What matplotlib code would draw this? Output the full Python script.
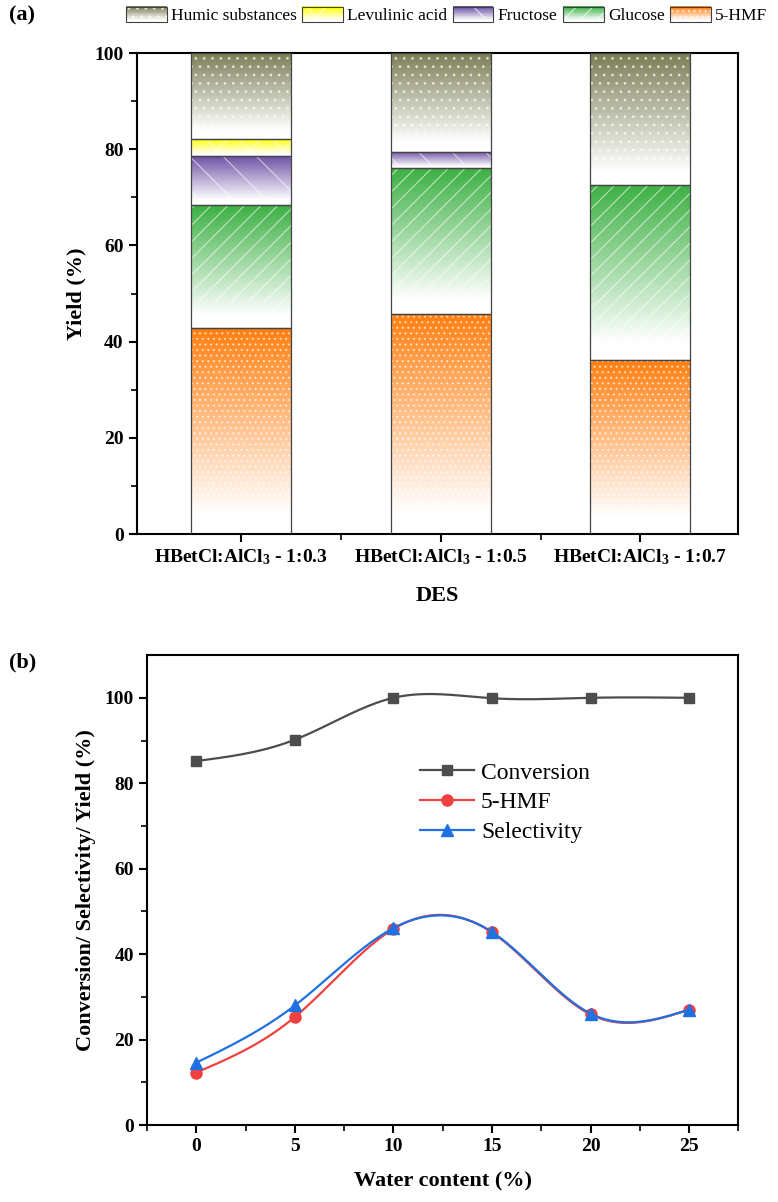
import numpy as np
import matplotlib
matplotlib.use("Agg")
import matplotlib.pyplot as plt
from matplotlib.patches import Rectangle, Patch
from matplotlib.legend_handler import HandlerBase
from matplotlib.ticker import MultipleLocator, FixedLocator

plt.rcParams['font.family'] = ['Liberation Serif', 'DejaVu Serif']
plt.rcParams['mathtext.fontset'] = 'custom'
plt.rcParams['mathtext.rm'] = 'Liberation Serif'
plt.rcParams['mathtext.bf'] = 'Liberation Serif:bold'
plt.rcParams['mathtext.default'] = 'bf'
plt.rcParams['hatch.linewidth'] = 0.8

# ---- panel (a) data: yield (%) of each product per DES ----
des_labels = [r'HBetCl:AlCl$_3$ - 1:0.3', r'HBetCl:AlCl$_3$ - 1:0.5', r'HBetCl:AlCl$_3$ - 1:0.7']
hmf = [42.8, 45.8, 36.1]
glucose = [25.5, 30.2, 36.4]
fructose = [10.2, 3.4, 0.0]
levulinic = [3.6, 0.0, 0.0]
humic = [17.9, 20.6, 27.5]

# ---- panel (b) data ----
water = [0, 5, 10, 15, 20, 25]
conversion = [85.2, 90.2, 100.0, 99.9, 100.0, 100.0]
hmf_yield = [12.3, 25.3, 45.9, 45.1, 25.9, 27.0]
selectivity = [14.6, 28.0, 46.1, 45.2, 26.1, 27.0]

# series styling: (label, values, colour, hatch)
series = [
    ("5-HMF", hmf, "#ff7f10", "..."),
    ("Glucose", glucose, "#3cb043", "//"),
    ("Fructose", fructose, "#6b4ea2", "\\"),
    ("Levulinic acid", levulinic, "#ffff00", "x"),
    ("Humic substances", humic, "#7b7d55", ".."),
]


def gradient(color, n=256):
    rgb = np.array(matplotlib.colors.to_rgb(color))
    t = np.linspace(0, 1, n)[:, None]  # 0 at top, 1 at bottom
    w = np.clip(t / 0.9, 0, 1)
    return (rgb * (1 - w) + w)[:, None, :]


def natural_spline(x, y, n=300):
    x = np.asarray(x, float)
    y = np.asarray(y, float)
    h = np.diff(x)
    m = len(x)
    A = np.zeros((m, m))
    r = np.zeros(m)
    A[0, 0] = A[-1, -1] = 1
    for i in range(1, m - 1):
        A[i, i - 1] = h[i - 1]
        A[i, i] = 2 * (h[i - 1] + h[i])
        A[i, i + 1] = h[i]
        r[i] = 6 * ((y[i + 1] - y[i]) / h[i] - (y[i] - y[i - 1]) / h[i - 1])
    M = np.linalg.solve(A, r)
    xs = np.linspace(x[0], x[-1], n)
    idx = np.clip(np.searchsorted(x, xs) - 1, 0, m - 2)
    x0, x1 = x[idx], x[idx + 1]
    hh = x1 - x0
    a = (x1 - xs) / hh
    b = (xs - x0) / hh
    ys = a * y[idx] + b * y[idx + 1] + ((a ** 3 - a) * M[idx] + (b ** 3 - b) * M[idx + 1]) * hh ** 2 / 6
    return xs, ys


class GradientHandler(HandlerBase):
    def create_artists(self, legend, orig_handle, xdescent, ydescent, width, height, fontsize, trans):
        color = orig_handle.get_facecolor()
        hatch = orig_handle.get_hatch()
        x0, y0 = -xdescent, -ydescent
        arts = []
        g = gradient(color, 20)[:, 0, :]
        n = len(g)
        for i in range(n):
            arts.append(Rectangle((x0, y0 + height * (n - 1 - i) / n), width, height / n + 0.3,
                                  facecolor=g[i], edgecolor='none', lw=0, transform=trans))
        arts.append(Rectangle((x0, y0), width, height, facecolor='none', edgecolor=(1, 1, 1, 0.7),
                              hatch=hatch, lw=0, transform=trans))
        arts.append(Rectangle((x0, y0), width, height, facecolor='none', edgecolor='#404040',
                              lw=0.8, transform=trans))
        return arts


fig = plt.figure(figsize=(7.78, 12.02), dpi=100)
ax1 = fig.add_axes([0.176, 0.5557, 0.773, 0.4002])
ax2 = fig.add_axes([0.189, 0.064, 0.760, 0.391])

# ---------------- panel (a) ----------------
xpos = np.arange(len(des_labels))
bottom = np.zeros(len(des_labels))
width = 0.5
for label, vals, color, hatch in series:
    vals = np.array(vals)
    bars = ax1.bar(xpos, vals, width, bottom=bottom, facecolor='none', edgecolor='none', lw=0)
    for rect, v in zip(bars, vals):
        if v <= 0:
            continue
        bx, by = rect.get_x(), rect.get_y()
        bw, bh = rect.get_width(), rect.get_height()
        ax1.imshow(gradient(color), extent=(bx, bx + bw, by, by + bh), aspect='auto',
                   origin='upper', zorder=1, interpolation='bilinear')
    ax1.bar(xpos, np.where(vals > 0, vals, np.nan), width, bottom=bottom, facecolor='none',
            edgecolor=(1, 1, 1, 0.6), hatch=hatch, lw=0, zorder=2)
    ax1.bar(xpos, np.where(vals > 0, vals, np.nan), width, bottom=bottom, facecolor='none',
            edgecolor='#444444', lw=0.9, zorder=3)
    bottom = bottom + vals

ax1.set_xlim(-0.52, 2.49)
ax1.set_ylim(0, 100)
ax1.set_xticks(xpos)
ax1.set_xticklabels(des_labels, fontsize=14, fontweight='bold')
ax1.xaxis.set_minor_locator(FixedLocator([0.5, 1.5]))
ax1.yaxis.set_major_locator(MultipleLocator(20))
ax1.yaxis.set_minor_locator(MultipleLocator(10))
ax1.set_ylabel('Yield (%)', fontsize=16, fontweight='bold', labelpad=6)
ax1.set_xlabel('DES', fontsize=16, fontweight='bold', labelpad=14)

legend_handles = [Patch(facecolor=c, hatch=h) for _, _, c, h in series[::-1]]
legend_labels = [s[0] for s in series[::-1]]
fig.legend(legend_handles, legend_labels, loc='center', bbox_to_anchor=(0.574, 0.987),
           ncol=5, frameon=False, fontsize=12.5, handlelength=2.35, handleheight=1.0,
           handletextpad=0.25, columnspacing=0.3,
           handler_map={Patch: GradientHandler()})

# ---------------- panel (b) ----------------
for yv, color, marker, ms, label in [
    (conversion, '#4d4d4d', 's', 7, 'Conversion'),
    (hmf_yield, '#f04040', 'o', 8, '5-HMF'),
    (selectivity, '#1f70e0', '^', 8.5, 'Selectivity'),
]:
    xs, ys = natural_spline(water, yv)
    ax2.plot(xs, ys, color=color, lw=1.6)
    ax2.plot(water, yv, linestyle='none', marker=marker, ms=ms, color=color)
    ax2.plot([], [], color=color, lw=1.6, marker=marker, ms=ms, label=label)

ax2.set_xlim(-2.5, 27.5)
ax2.set_ylim(0, 110)
ax2.xaxis.set_major_locator(MultipleLocator(5))
ax2.xaxis.set_minor_locator(MultipleLocator(2.5))
ax2.yaxis.set_major_locator(FixedLocator([0, 20, 40, 60, 80, 100]))
ax2.yaxis.set_minor_locator(FixedLocator([10, 30, 50, 70, 90]))
ax2.set_xlabel('Water content (%)', fontsize=16, fontweight='bold', labelpad=12)
ax2.set_ylabel('Conversion/ Selectivity/ Yield (%)', fontsize=16, fontweight='bold', labelpad=6)
ax2.legend(loc='center left', bbox_to_anchor=(0.425, 0.686), frameon=False, fontsize=17,
           handlelength=2.3, handletextpad=0.3, labelspacing=0.35)

for ax in (ax1, ax2):
    for s in ax.spines.values():
        s.set_linewidth(1.5)
    ax.tick_params(which='major', direction='out', length=6, width=1.5, labelsize=14)
    ax.tick_params(which='minor', direction='out', length=4, width=1.2)
    for lab in ax.get_yticklabels() + ax.get_xticklabels():
        lab.set_fontweight('bold')

fig.text(0.012, 0.987, '(a)', fontsize=16, fontweight='bold', va='center')
fig.text(0.012, 0.449, '(b)', fontsize=16, fontweight='bold', va='center')

fig.savefig('out.png', dpi=100)
